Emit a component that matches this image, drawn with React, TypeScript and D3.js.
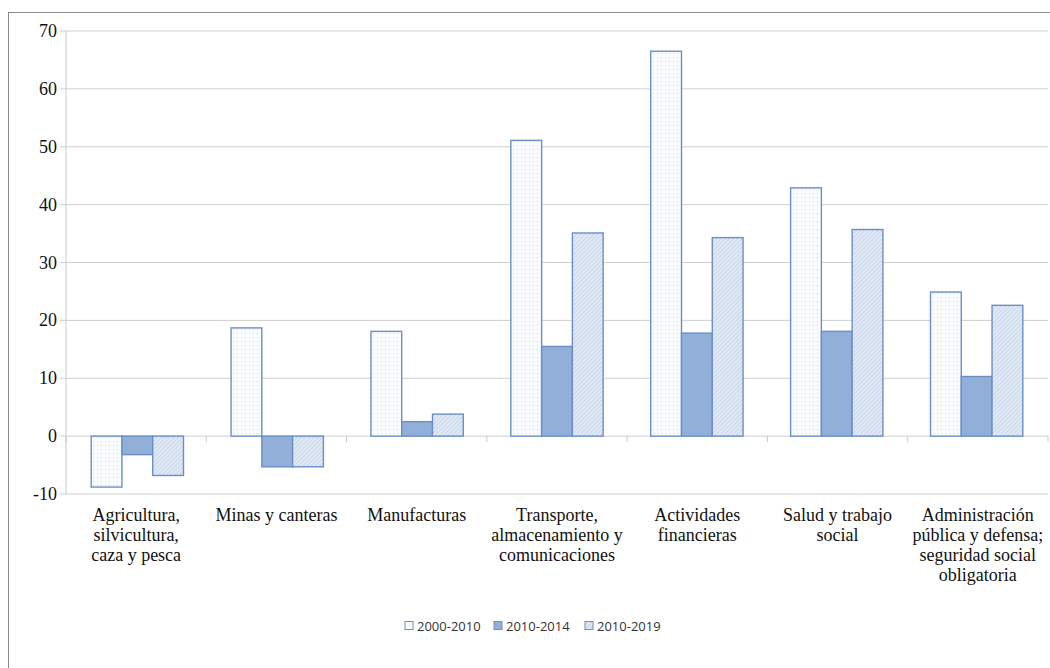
import React from "react";
import * as d3 from "d3";

const categories: string[][] = [
  ["Agricultura,", "silvicultura,", "caza y pesca"],
  ["Minas y canteras"],
  ["Manufacturas"],
  ["Transporte,", "almacenamiento y", "comunicaciones"],
  ["Actividades", "financieras"],
  ["Salud y trabajo", "social"],
  ["Administración", "pública y defensa;", "seguridad social", "obligatoria"],
];
const series = ["2000-2010", "2010-2014", "2010-2019"];
const v2000_2010 = [-8.8, 18.7, 18.1, 51.1, 66.5, 42.9, 24.9];
const v2010_2014 = [-3.2, -5.3, 2.5, 15.5, 17.8, 18.1, 10.3];
const v2010_2019 = [-6.8, -5.3, 3.8, 35.1, 34.3, 35.7, 22.6];
const yTicks = [-10, 0, 10, 20, 30, 40, 50, 60, 70];

const W = 1050, H = 668;
const left = 66, right = 1048, top = 31, bottom = 494;
const SERIF = "'Liberation Serif', 'Times New Roman', serif";

export default function App() {
  const values = [v2000_2010, v2010_2014, v2010_2019];
  const y = d3.scaleLinear().domain([-10, 70]).range([bottom, top]);
  const x0 = d3.scaleBand<number>().domain(d3.range(categories.length)).range([left, right]).paddingInner(0.34).paddingOuter(0.18);
  const x1 = d3.scaleBand<number>().domain([0, 1, 2]).range([0, x0.bandwidth()]);
  const step = (right - left) / categories.length;
  const fills = ["url(#dots)", "#91afd9", "url(#hatch)"];
  const legendX = [405, 494, 585];
  return (
    <svg width={W} height={H} style={{ position: "absolute", left: 0, top: 0, background: "#fff" }}>
      <defs>
        <pattern id="dots" width="4" height="4" patternUnits="userSpaceOnUse">
          <rect width="4" height="4" fill="#fbfcfe" />
          <rect x="1" y="1" width="1" height="1" fill="#c9d7ec" />
        </pattern>
        <pattern id="hatch" width="3" height="3" patternUnits="userSpaceOnUse" patternTransform="rotate(45)">
          <rect width="3" height="3" fill="#e2eaf5" />
          <line x1="0" y1="0" x2="0" y2="3" stroke="#b3c7e3" strokeWidth="1.2" />
        </pattern>
      </defs>
      <rect x={8.5} y={12.5} width={1060} height={700} fill="none" stroke="#8a8a8a" strokeWidth={1} />
      {yTicks.map((t) => (
        <g key={t}>
          <line x1={left - 6} x2={right} y1={y(t)} y2={y(t)} stroke="#cfcfcf" strokeWidth={1} />
          <text x={57} y={y(t) + 6} textAnchor="end" fontFamily={SERIF} fontSize={18} fill="#111">
            {t}
          </text>
        </g>
      ))}
      <line x1={left} x2={left} y1={top} y2={bottom} stroke="#c8c8c8" />
      {d3.range(categories.length + 1).map((i) => (
        <line key={i} x1={left + i * step} x2={left + i * step} y1={y(0)} y2={y(0) + 6} stroke="#c8c8c8" />
      ))}
      {values.map((vals, s) =>
        vals.map((v, i) => {
          const bx = (x0(i) as number) + (x1(s) as number);
          const y0 = y(Math.max(0, v));
          const h = Math.abs(y(v) - y(0));
          return (
            <rect key={`${s}-${i}`} x={bx} y={y0} width={x1.bandwidth()} height={h} fill={fills[s]} stroke="#6a8fc6" strokeWidth={1.4} />
          );
        })
      )}
      {categories.map((lines, i) => {
        const cx = left + (i + 0.5) * step;
        return (
          <text key={i} textAnchor="middle" fontFamily={SERIF} fontSize={18} fill="#111">
            {lines.map((l, k) => (
              <tspan key={k} x={cx} y={521 + k * 20}>{l}</tspan>
            ))}
          </text>
        );
      })}
      {series.map((s, k) => (
        <g key={s}>
          <rect x={legendX[k]} y={621.5} width={8} height={8} fill={fills[k]} stroke="#6a8fc6" strokeWidth={1} />
          <text x={legendX[k] + 12} y={630.5} fontFamily="'Open Sans', sans-serif" fontSize={13} fill="#333">{s}</text>
        </g>
      ))}
    </svg>
  );
}
